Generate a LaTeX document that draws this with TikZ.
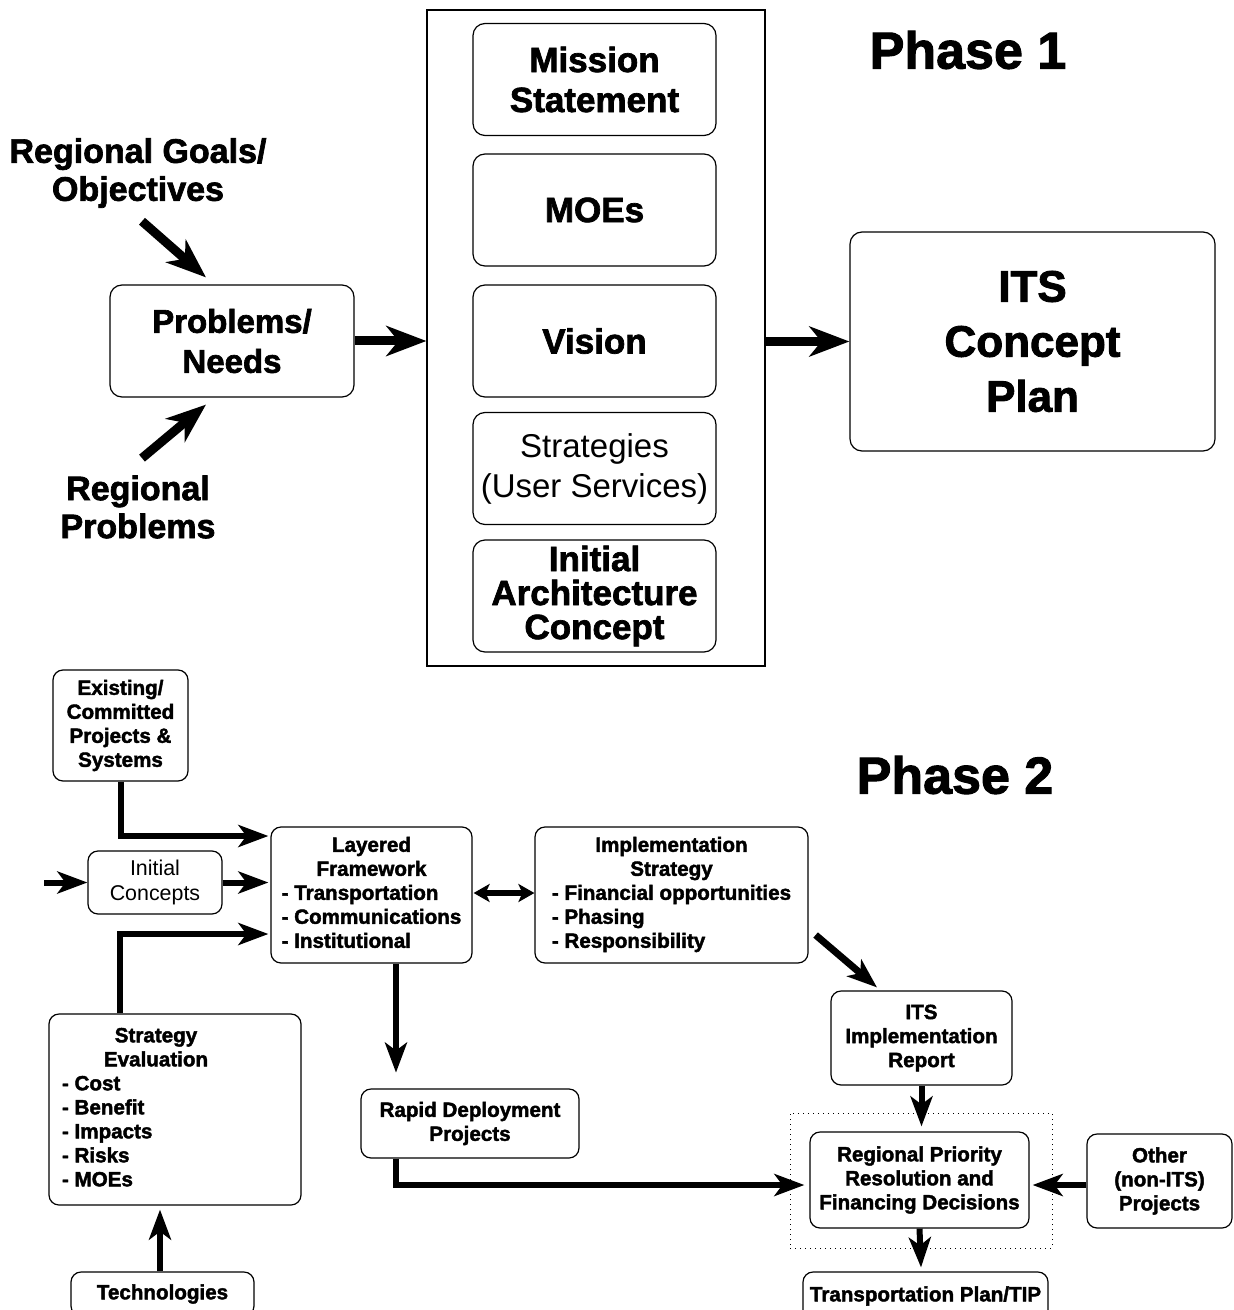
\documentclass[tikz,border=0pt]{standalone}
\usepackage{fontspec}
\setmainfont{Liberation Sans}[BoldFeatures={FakeBold=2}]
\usepackage{tikz}
\usetikzlibrary{arrows.meta,calc}
\tikzset{
  >={Stealth[length=15pt,width=11pt,inset=4pt]},
}
\tikzstyle{every node}=[font=\bfseries]
\tikzstyle{bigbox}=[draw,line width=.6pt,rounded corners=6pt,align=center,minimum width=121.5pt,minimum height=56pt,font=\fontsize{17.5}{20}\selectfont\bfseries]
\tikzstyle{smallbox}=[draw,line width=.6pt,rounded corners=5pt,align=center,inner sep=2pt,font=\fontsize{10.3}{12}\selectfont\bfseries]
\tikzstyle{phasetitle}=[font=\fontsize{26}{30}\selectfont\bfseries]
\tikzstyle{fatflow}=[line width=4.5pt,-{Stealth[length=20pt,width=15pt,inset=6pt]}]
\tikzstyle{flow}=[line width=3pt,->]
\newcommand{\colhead}[1]{\multicolumn{1}{@{}c@{}}{#1}}

\begin{document}
\begin{tikzpicture}[x=.5pt,y=-.5pt]
    \clip (0,0) rectangle (1233,1310);
    % phase 1
    \node[phasetitle] (phaseone) at (968,50) {Phase 1};
    \node[draw,line width=.6pt,minimum width=169pt,minimum height=328pt] (frame) at (596,338) {};
    \node[bigbox] (mission) at (594.5,79.5) {Mission\\Statement};
    \node[bigbox] (moes) at (594.5,210) {MOEs};
    \node[bigbox] (vision) at (594.5,341) {Vision};
    \node[bigbox,inner sep=1pt,font=\fontsize{16.5}{20}\selectfont] (strat) at (594.5,468.5) {Strategies\\(User Services)};
    \node[bigbox,inner sep=1pt,font=\fontsize{17.5}{17}\selectfont\bfseries] (arch) at (594.5,596) {Initial\\Architecture\\Concept};
    \node[bigbox,minimum width=122pt,font=\fontsize{16.5}{20}\selectfont\bfseries] (needs) at (232,341) {Problems/\\Needs};
    \node[inner sep=0pt,align=center,font=\fontsize{17}{19}\selectfont\bfseries] (goals) at (138,173) {Regional Goals/\\Objectives};
    \node[inner sep=0pt,align=center,font=\fontsize{17}{19}\selectfont\bfseries] (regprob) at (138,507) {Regional\\Problems};
    \node[bigbox,minimum width=182.5pt,minimum height=109.5pt,font=\fontsize{22}{27.5}\selectfont\bfseries] (concept) at (1032.5,341.5) {ITS\\Concept\\Plan};
    \draw[fatflow] ($(goals.south)+(4,13)$) -- ($(needs.north)+(-26,-7)$);
    \draw[fatflow] ($(regprob.north)+(4,-17)$) -- ($(needs.south)+(-26,7)$);
    \draw[fatflow] (needs.east) -- (needs.east -| frame.west);
    \draw[fatflow] (frame.east |- concept.west) -- (concept.west);
    % phase 2
    \node[phasetitle] (phasetwo) at (955,775) {Phase 2};
    \node[smallbox,minimum width=67.5pt,minimum height=55.5pt] (exist) at (120.5,725.5) {Existing/\\Committed\\Projects \&\\Systems};
    \node[smallbox,minimum width=67pt,minimum height=31.5pt,font=\fontsize{10.7}{12.5}\selectfont] (init) at (155,882.5) {Initial\\Concepts};
    \coordinate (inflow) at (44,882.5);
    \node[smallbox,minimum width=100.5pt,minimum height=68pt] (layered) at (371.5,895) {\begin{tabular}{@{}l@{}}\colhead{Layered}\\\colhead{Framework}\\- Transportation\\- Communications\\- Institutional\end{tabular}};
    \node[smallbox,minimum width=136.5pt,minimum height=68pt] (impl) at (671.5,895) {\begin{tabular}{@{}l@{}}\colhead{Implementation}\\\colhead{Strategy}\\- Financial opportunities\\- Phasing\\- Responsibility\end{tabular}};
    \node[smallbox,minimum width=126pt,minimum height=95.5pt] (stratev) at (175,1109.5) {\begin{tabular}{@{}p{94pt}@{\hspace{19pt}}}\multicolumn{1}{@{}c@{\hspace{19pt}}}{Strategy}\\\multicolumn{1}{@{}c@{\hspace{19pt}}}{Evaluation}\\- Cost\\- Benefit\\- Impacts\\- Risks\\- MOEs\end{tabular}};
    \node[smallbox,minimum width=109pt,minimum height=34.5pt] (rapid) at (470,1123.5) {Rapid Deployment\\Projects};
    \node[smallbox,minimum width=90.5pt,minimum height=47pt] (itsrep) at (921.5,1038) {ITS\\Implementation\\Report};
    \node[draw,dotted,line width=.5pt,minimum width=131pt,minimum height=67.5pt] (decide) at (921,1180.5) {};
    \node[smallbox,minimum width=109.5pt,minimum height=48pt] (regional) at (919.5,1180) {Regional Priority\\Resolution and\\Financing Decisions};
    \node[smallbox,minimum width=72.5pt,minimum height=47pt] (other) at (1159.5,1181) {Other\\(non-ITS)\\Projects};
    \node[smallbox,minimum width=122.5pt,minimum height=24pt] (tip) at (925.5,1296) {Transportation Plan/TIP};
    \node[smallbox,minimum width=91.5pt,minimum height=22pt] (tech) at (162.5,1294) {Technologies};
    \draw[flow] (exist.south) |- ($(layered.west)+(-2,-59)$);
    \draw[flow] (inflow) -- (init.west);
    \draw[flow] (init.east) -- ($(init.east -| layered.west)+(-2,0)$);
    \draw[flow] ($(stratev.north)+(-55,0)$) |- ($(layered.west)+(-2,39)$);
    \draw[line width=3pt,{Stealth[length=8pt,width=9pt,inset=2pt]}-{Stealth[length=8pt,width=9pt,inset=2pt]}] ($(layered.east)+(1,-2)$) -- ($(impl.west)+(0,-2)$);
    \draw[flow,line width=3.5pt] ($(impl.east)+(7,40)$) -- ($(itsrep.north)+(-44.5,-3)$);
    \draw[flow] (itsrep.south) -- ($(itsrep.south |- regional.north)+(0,-5)$);
    \draw[flow] ($(layered.south)+(24.5,0)$) -- ($(layered.south -| rapid.north)+(-74,109)$);
    \draw[flow] ($(rapid.south)+(-74,0)$) |- ($(regional.west)+(-5,5)$);
    \draw[flow] ($(other.west)+(0,4)$) -- ($(regional.east)+(3,5)$);
    \draw[flow] (regional.south) -- ($(regional.south |- tip.north)+(1.5,-4)$);
    \draw[flow] ($(tech.north)+(-2.5,0)$) -- ($(tech.north |- stratev.south)+(-2.5,4)$);
\end{tikzpicture}
\end{document}
